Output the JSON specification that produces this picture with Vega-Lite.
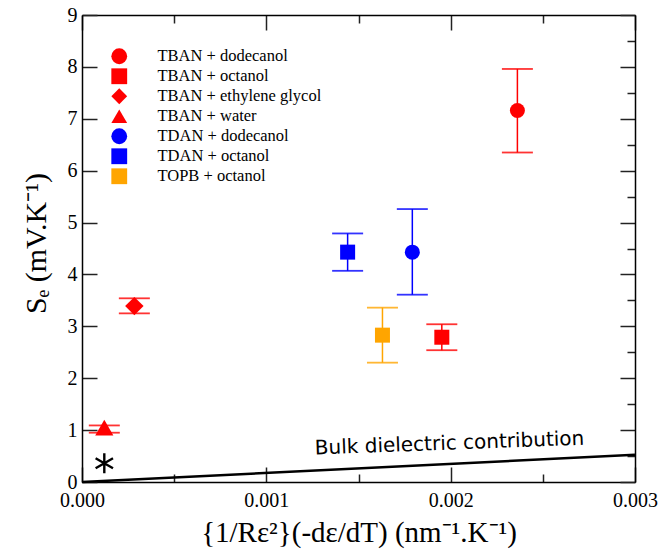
{
  "$schema": "https://vega.github.io/schema/vega-lite/v6.json",
  "width": 553,
  "height": 467,
  "autosize": "none",
  "padding": {"left": 82, "top": 15, "right": 25, "bottom": 72},
  "background": "white",
  "config": {
    "view": {"stroke": null},
    "axis": {
      "domainColor": "black",
      "domainWidth": 1.5,
      "tickColor": "#222",
      "tickWidth": 1.5,
      "grid": false,
      "labelFlush": false,
      "labelOverlap": false,
      "labelFont": "Liberation Serif",
      "labelFontSize": 20,
      "labelColor": "black",
      "titleFont": "Liberation Serif",
      "titleFontSize": 29,
      "titleFontWeight": "normal",
      "titleColor": "black"
    }
  },
  "datasets": {
    "pts": [
      {"series": "TBAN + dodecanol", "x": 0.002362, "y": 7.16, "ylo": 6.35, "yhi": 7.96},
      {"series": "TBAN + octanol", "x": 0.001952, "y": 2.79, "ylo": 2.54, "yhi": 3.04},
      {"series": "TBAN + ethylene glycol", "x": 0.000284, "y": 3.39, "ylo": 3.25, "yhi": 3.54},
      {"series": "TBAN + water", "x": 0.000121, "y": 1.05, "ylo": 0.95, "yhi": 1.09},
      {"series": "TDAN + dodecanol", "x": 0.001792, "y": 4.43, "ylo": 3.61, "yhi": 5.26},
      {"series": "TDAN + octanol", "x": 0.001441, "y": 4.43, "ylo": 4.07, "yhi": 4.79},
      {"series": "TOPB + octanol", "x": 0.00163, "y": 2.83, "ylo": 2.30, "yhi": 3.36}
    ],
    "star": [{"x": 0.000121, "y": 0.36}],
    "bulk": [{"x": 0, "y": 0}, {"x": 0.003, "y": 0.525}],
    "note": [{"x": 0.001994, "y": 0.74, "label": "Bulk dielectric contribution"}]
  },
  "resolve": {"axis": {"x": "independent", "y": "independent"}},
  "layer": [
    {
      "data": {"name": "pts"},
      "mark": {"type": "rule", "strokeWidth": 1.5},
      "encoding": {
        "x": {"field": "x", "type": "quantitative", "scale": {"domain": [0, 0.003], "nice": false, "zero": false}, "axis": null},
        "y": {"field": "ylo", "type": "quantitative", "scale": {"domain": [0, 9], "nice": false}, "axis": null},
        "y2": {"field": "yhi"},
        "color": {"condition": [{"test": "datum.series === 'TOPB + octanol'", "value": "#ffa500"}, {"test": "indexof(datum.series, 'TDAN') === 0", "value": "#0000ff"}], "value": "#ff0000"}
      }
    },
    {
      "data": {"name": "pts"},
      "mark": {"type": "tick", "orient": "horizontal", "size": 31, "thickness": 1.8, "opacity": 0.8},
      "encoding": {
        "x": {"field": "x", "type": "quantitative", "axis": null},
        "y": {"field": "ylo", "type": "quantitative", "axis": null},
        "color": {"condition": [{"test": "datum.series === 'TOPB + octanol'", "value": "#ffa500"}, {"test": "indexof(datum.series, 'TDAN') === 0", "value": "#0000ff"}], "value": "#ff0000"}
      }
    },
    {
      "data": {"name": "pts"},
      "mark": {"type": "tick", "orient": "horizontal", "size": 31, "thickness": 1.8, "opacity": 0.8},
      "encoding": {
        "x": {"field": "x", "type": "quantitative", "axis": null},
        "y": {"field": "yhi", "type": "quantitative", "axis": null},
        "color": {"condition": [{"test": "datum.series === 'TOPB + octanol'", "value": "#ffa500"}, {"test": "indexof(datum.series, 'TDAN') === 0", "value": "#0000ff"}], "value": "#ff0000"}
      }
    },
    {
      "data": {"name": "bulk"},
      "mark": {"type": "line", "color": "black", "strokeWidth": 2.5},
      "encoding": {
        "x": {"field": "x", "type": "quantitative", "axis": {"orient": "top", "title": null, "labels": false, "domain": true, "values": [0, 0.0005, 0.001, 0.0015, 0.002, 0.0025, 0.003], "tickSize": {"condition": {"test": "round(datum.value*10000)%10===0", "value": -15}, "value": -8}}},
        "y": {"field": "y", "type": "quantitative", "axis": {"orient": "right", "title": null, "labels": false, "domain": true, "values": [0, 0.5, 1, 1.5, 2, 2.5, 3, 3.5, 4, 4.5, 5, 5.5, 6, 6.5, 7, 7.5, 8, 8.5, 9], "tickSize": {"condition": {"test": "datum.value%1===0", "value": -15}, "value": -8}}}
      }
    },
    {
      "data": {"name": "star"},
      "mark": {"type": "point", "shape": "M0,-1L0,1M-0.87,-0.5L0.87,0.5M-0.87,0.5L0.87,-0.5", "filled": false, "stroke": "black", "strokeWidth": 2.4, "size": 400, "opacity": 1},
      "encoding": {
        "x": {"field": "x", "type": "quantitative", "axis": null},
        "y": {"field": "y", "type": "quantitative", "axis": null}
      }
    },
    {
      "data": {"name": "note"},
      "mark": {"type": "text", "font": "DejaVu Sans", "fontSize": 20, "angle": 357.9, "color": "black", "align": "center", "baseline": "middle"},
      "encoding": {
        "x": {"field": "x", "type": "quantitative", "axis": null},
        "y": {"field": "y", "type": "quantitative", "axis": null},
        "text": {"field": "label"}
      }
    },
    {
      "data": {"name": "pts"},
      "mark": {"type": "point", "filled": true, "opacity": 1, "strokeWidth": 0},
      "encoding": {
        "x": {"field": "x", "type": "quantitative", "axis": {"orient": "bottom", "title": "{1/Rε²}(-dε/dT) (nm⁻¹.K⁻¹)", "titlePadding": 1, "format": ".3f", "labelPadding": 23, "values": [0, 0.0005, 0.001, 0.0015, 0.002, 0.0025, 0.003], "labelExpr": "round(datum.value*10000)%10===0 ? datum.label : ''", "tickSize": {"condition": {"test": "round(datum.value*10000)%10===0", "value": -15}, "value": -8}}},
        "y": {"field": "y", "type": "quantitative", "axis": {"orient": "left", "title": "Sₑ (mV.K⁻¹)", "titleFontSize": 30, "titleY": 228, "titlePadding": 16, "labelPadding": 20, "format": "d", "values": [0, 0.5, 1, 1.5, 2, 2.5, 3, 3.5, 4, 4.5, 5, 5.5, 6, 6.5, 7, 7.5, 8, 8.5, 9], "labelExpr": "datum.value%1===0 ? datum.label : ''", "tickSize": {"condition": {"test": "datum.value%1===0", "value": -15}, "value": -8}}},
        "color": {"field": "series", "type": "nominal", "scale": {"domain": ["TBAN + dodecanol", "TBAN + octanol", "TBAN + ethylene glycol", "TBAN + water", "TDAN + dodecanol", "TDAN + octanol", "TOPB + octanol"], "range": ["#ff0000", "#ff0000", "#ff0000", "#ff0000", "#0000ff", "#0000ff", "#ffa500"]},
          "legend": {"orient": "none", "legendX": 29, "legendY": 33, "title": null, "labelFont": "Liberation Serif", "labelFontSize": 16.5, "labelColor": "black", "labelLimit": 400, "symbolSize": 250, "symbolStrokeWidth": 0, "labelOffset": 30, "rowPadding": 3}},
        "shape": {"field": "series", "type": "nominal", "scale": {"domain": ["TBAN + dodecanol", "TBAN + octanol", "TBAN + ethylene glycol", "TBAN + water", "TDAN + dodecanol", "TDAN + octanol", "TOPB + octanol"], "range": ["circle", "square", "diamond", "triangle-up", "circle", "square", "square"]},
          "legend": {"orient": "none", "legendX": 29, "legendY": 33, "title": null, "labelFont": "Liberation Serif", "labelFontSize": 16.5, "labelColor": "black", "labelLimit": 400, "symbolSize": 250, "symbolStrokeWidth": 0, "labelOffset": 30, "rowPadding": 3}},
        "size": {"condition": [{"test": "datum.series === 'TBAN + ethylene glycol'", "value": 340}, {"test": "datum.series === 'TBAN + water'", "value": 330}], "value": 225}
      }
    }
  ]
}
